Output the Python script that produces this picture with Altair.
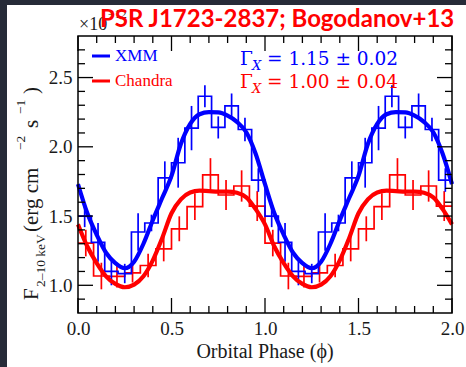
import altair as alt
import pandas as pd

# ---- PSR J1723-2837 folded 2-10 keV light curves (two orbits shown) ----
# XMM-Newton: 14 phase bins per orbit
xmm_flux = [1.50, 1.31, 1.10, 1.085, 1.385, 1.45, 1.775, 1.885, 2.135, 2.365, 2.14, 2.295, 2.125, 1.76]
xmm_err = [0.08, 0.14, 0.10, 0.07, 0.135, 0.06, 0.12, 0.18, 0.16, 0.08, 0.08, 0.09, 0.085, 0.085]

# Chandra: 12 phase bins per orbit
chandra_flux = [1.305, 1.067, 1.065, 1.09, 1.143, 1.263, 1.408, 1.568, 1.798, 1.652, 1.717, 1.572]
chandra_err = [0.096, 0.096, 0.08, 0.07, 0.085, 0.09, 0.09, 0.096, 0.12, 0.108, 0.113, 0.108]

# best-fit model curves over one orbit
model_phase = [0.00, 0.05, 0.10, 0.15, 0.20, 0.25, 0.30, 0.35, 0.40, 0.45, 0.50,
               0.55, 0.60, 0.65, 0.70, 0.75, 0.80, 0.85, 0.90, 0.95, 1.00]
xmm_model = [1.73, 1.52, 1.365, 1.235, 1.16, 1.123, 1.17, 1.30, 1.47, 1.63, 1.79,
             2.02, 2.165, 2.235, 2.25, 2.248, 2.225, 2.18, 2.105, 1.95, 1.73]
chandra_model = [1.44, 1.28, 1.16, 1.065, 1.01, 0.986, 1.005, 1.065, 1.18, 1.34, 1.52,
                 1.62, 1.67, 1.683, 1.68, 1.677, 1.677, 1.668, 1.635, 1.55, 1.44]

# axis ticks
x_major = [0.0, 0.5, 1.0, 1.5, 2.0]
x_minor = [0.1, 0.2, 0.3, 0.4, 0.6, 0.7, 0.8, 0.9, 1.1, 1.2, 1.3, 1.4, 1.6, 1.7, 1.8, 1.9]
y_major = [1.0, 1.5, 2.0, 2.5]
y_minor = [0.9, 1.1, 1.2, 1.3, 1.4, 1.6, 1.7, 1.8, 1.9, 2.1, 2.2, 2.3, 2.4, 2.6, 2.7]

BLUE = "#0000ff"
RED = "#ff0000"
INK = "#1a1a1a"
SERIF = "Liberation Serif"
W, H = 374, 277
MAJOR, MINOR = 15, 7


def step_table(flux, n):
    rows = []
    for cyc in (0, 1):
        for k, v in enumerate(flux):
            rows.append({"phase": cyc + k / n, "flux": v})
    rows.append({"phase": 2.0, "flux": flux[-1]})
    return pd.DataFrame(rows)


def err_table(flux, err, n):
    rows = []
    for cyc in (0, 1):
        for k, (v, e) in enumerate(zip(flux, err)):
            rows.append({"phase": cyc + (k + 0.5) / n, "lo": v - e, "hi": v + e})
    return pd.DataFrame(rows)


def model_table(values):
    rows = []
    for cyc in (0, 1):
        for p, v in zip(model_phase, values):
            if cyc == 1 and p == 0.0:
                continue
            rows.append({"phase": cyc + p, "flux": v})
    return pd.DataFrame(rows)


xs = alt.Scale(domain=[0, 2], nice=False, zero=False)
ys = alt.Scale(domain=[0.8, 2.8], nice=False, zero=False)
x_axis = alt.Axis(values=x_major, format=".1f", ticks=False, domain=False, grid=False,
                  labelFont=SERIF, labelFontSize=19, labelColor=INK, labelPadding=6,
                  labelFlush=False, labelOverlap=False, title="", zindex=2)
y_axis = alt.Axis(values=y_major, format=".1f", ticks=False, domain=False, grid=False,
                  labelFont=SERIF, labelFontSize=19, labelColor=INK, labelPadding=6,
                  labelOverlap=False, title="", zindex=2)


def X(field):
    return alt.X(field, type="quantitative", scale=xs, axis=x_axis)


def Y(field):
    return alt.Y(field, type="quantitative", scale=ys, axis=y_axis)


def hist(flux, n, color):
    return alt.Chart(step_table(flux, n)).mark_line(
        interpolate="step-after", color=color, strokeWidth=1.7
    ).encode(x=X("phase"), y=Y("flux"))


def bars(flux, err, n, color):
    return alt.Chart(err_table(flux, err, n)).mark_rule(
        color=color, strokeWidth=1.7
    ).encode(x=X("phase"), y=Y("lo"), y2="hi")


def model(values, color):
    return alt.Chart(model_table(values)).mark_line(
        interpolate="monotone", color=color, strokeWidth=4.2
    ).encode(x=X("phase"), y=Y("flux"))


def xticks(values, length):
    df = pd.DataFrame({"v": values})
    bottom = alt.Chart(df).mark_rule(color="black", strokeWidth=1.3).encode(
        x=X("v"), y=alt.value(H), y2=alt.value(H - length))
    top = alt.Chart(df).mark_rule(color="black", strokeWidth=1.3).encode(
        x=X("v"), y=alt.value(0), y2=alt.value(length))
    return [bottom, top]


def yticks(values, length):
    df = pd.DataFrame({"v": values})
    left = alt.Chart(df).mark_rule(color="black", strokeWidth=1.3).encode(
        y=Y("v"), x=alt.value(0), x2=alt.value(length))
    right = alt.Chart(df).mark_rule(color="black", strokeWidth=1.3).encode(
        y=Y("v"), x=alt.value(W), x2=alt.value(W - length))
    return [left, right]


def label(text, x, y, size, color, font=SERIF, angle=0, weight="normal",
          style="normal", align="left", baseline="alphabetic"):
    return alt.Chart(pd.DataFrame({"t": [text]})).mark_text(
        align=align, baseline=baseline, font=font, fontSize=size, color=color,
        angle=angle, fontWeight=weight, fontStyle=style
    ).encode(text="t:N", x=alt.value(x), y=alt.value(y))


def swatch(x1, x2, y, color):
    return alt.Chart(pd.DataFrame({"a": [0]})).mark_rule(color=color, strokeWidth=3).encode(
        x=alt.value(x1), x2=alt.value(x2), y=alt.value(y))


page = alt.Chart(pd.DataFrame({"a": [0]})).mark_rect(color="white").encode(
    x=alt.value(-71), x2=alt.value(W + 14), y=alt.value(-31), y2=alt.value(H + 54))

frame = alt.Chart(pd.DataFrame({"a": [0]})).mark_rect(
    fillOpacity=0, stroke="black", strokeWidth=1.5
).encode(x=alt.value(0), x2=alt.value(W), y=alt.value(0), y2=alt.value(H))

# rotated y-axis title: F_{2-10 keV} (erg cm^-2 s^-1)
ytitle = [
    label("F", -40, 264, 21, INK, angle=270),
    label("2–10 keV", -33, 251, 13.5, INK, angle=270),
    label("(erg cm", -40, 196, 21, INK, angle=270),
    label("−2", -53, 114, 13.5, INK, angle=270),
    label("s", -40, 92, 21, INK, angle=270),
    label("−1", -53, 78, 13.5, INK, angle=270),
    label(")", -40, 58, 21, INK, angle=270),
]

texts = [
    label("×10", 1, -6, 18, INK),
    label("−12", 30, -18, 12, INK),
    label("PSR J1723-2837; Bogodanov+13", 22, -9, 24, RED, font="Lato", weight="bold"),
    swatch(14, 32, 20, BLUE),
    swatch(14, 32, 45, RED),
    label("XMM", 37, 20, 17, BLUE, baseline="middle"),
    label("Chandra", 37, 45, 17, RED, baseline="middle"),
    label("Γ", 162, 29, 18.5, BLUE, font="DejaVu Serif"),
    label("X", 174, 34, 13, BLUE, font="DejaVu Serif", style="italic"),
    label("= 1.15 ± 0.02", 189, 29, 18.5, BLUE, font="DejaVu Serif"),
    label("Γ", 162, 52, 18.5, RED, font="DejaVu Serif"),
    label("X", 174, 57, 13, RED, font="DejaVu Serif", style="italic"),
    label("= 1.00 ± 0.04", 189, 52, 18.5, RED, font="DejaVu Serif"),
    label("Orbital Phase (ϕ)", W / 2, 322, 20, INK, align="center"),
]

layers = (
    [page,
     hist(chandra_flux, 12, RED), bars(chandra_flux, chandra_err, 12, RED),
     hist(xmm_flux, 14, BLUE), bars(xmm_flux, xmm_err, 14, BLUE),
     model(chandra_model, RED), model(xmm_model, BLUE)]
    + xticks(x_major, MAJOR) + xticks(x_minor, MINOR)
    + yticks(y_major, MAJOR) + yticks(y_minor, MINOR)
    + [frame] + ytitle + texts
)

chart = alt.layer(*layers).properties(
    width=W, height=H,
    autosize="none",
    padding={"left": 78, "top": 36, "right": 14, "bottom": 54},
    background="#262b38",
).configure_view(
    strokeWidth=0
).configure_axis(
    labelFont=SERIF, labelFontSize=19, labelColor=INK
)

chart.save("out.html", embed_options={"renderer": "svg", "actions": False})
